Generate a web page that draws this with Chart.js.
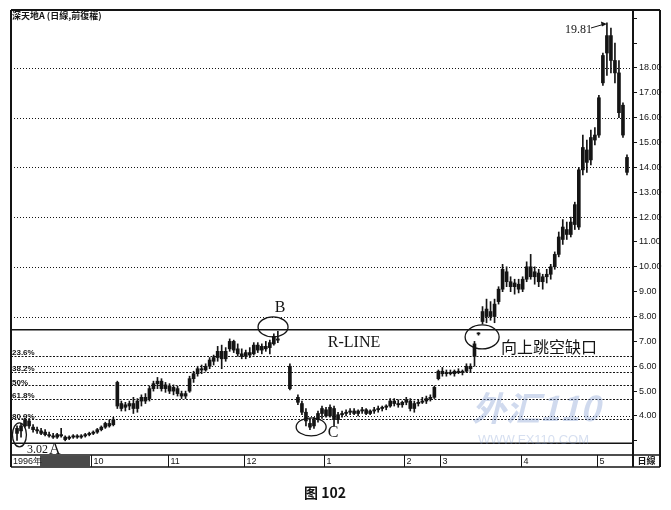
<!DOCTYPE html>
<html>
<head>
<meta charset="utf-8">
<script src="https://cdn.jsdelivr.net/npm/chart.js@4.4.1/dist/chart.umd.min.js"></script>
<style>
html, body { margin: 0; padding: 0; background: #fff; }
</style>
</head>
<body>
<canvas id="chart" width="671" height="510"></canvas>
<script>
// 深天地A 日线 1996.9 - 1997.5, one slot per trading day (null = no bar)
var opens = [
  null, 3.30, 3.40, 3.60, 3.80, 3.55, 3.45, 3.40, 3.35, 3.25,   // 0
  3.20, 3.15, 3.25, 3.15, 3.10, 3.15, 3.20, 3.15, 3.20, 3.25,   // 10
  3.30, 3.35, 3.45, 3.55, 3.70, 3.65, 5.35, 4.50, 4.35, 4.40,   // 20
  4.50, 4.30, 4.60, 4.75, 4.70, 5.10, 5.30, 5.40, 5.10, 5.20,   // 30
  5.00, 5.10, 4.90, 4.80, 5.00, 5.50, 5.70, 5.90, 5.85, 6.00,   // 40
  6.20, 6.35, 6.60, 6.30, 6.70, 7.00, 6.70, 6.50, 6.40, 6.55,   // 50
  6.50, 6.85, 6.65, 6.80, 6.75, 6.90, 7.10, null, null, 6.00,   // 60
  null, 4.75, 4.50, 4.15, 3.70, 3.60, 3.85, 4.10, 4.25, 4.00,   // 70
  4.30, 3.85, 4.05, 4.10, 4.15, 4.20, 4.10, 4.20, 4.25, 4.10,   // 80
  4.20, 4.25, 4.30, 4.35, 4.40, 4.60, 4.50, 4.45, 4.55, 4.60,   // 90
  4.30, 4.50, 4.55, 4.60, 4.70, 4.75, 5.50, 5.80, 5.70, 5.75,   // 100
  5.70, 5.80, 5.75, 5.80, 6.00, 6.40, 7.30, 7.80, 8.00, 8.20,   // 110
  8.00, 8.60, 9.10, 9.80, 9.40, 9.20, 9.30, 9.10, 9.50, 10.00,  // 120
  9.60, 9.75, 9.40, 9.60, 9.70, 10.00, 10.50, 11.10, 11.50, 11.30, // 130
  11.70, 11.60, 13.90, 14.70, 14.30, 15.10, 15.30, 17.40, 18.60, 19.30, // 140
  18.30, 17.80, 16.50, 14.40, null                               // 150
];
var highs = [
  null, 3.60, 3.70, 3.92, 3.90, 3.65, 3.55, 3.50, 3.45, 3.35,
  3.30, 3.30, 3.50, 3.20, 3.20, 3.25, 3.25, 3.25, 3.30, 3.35,
  3.40, 3.50, 3.60, 3.75, 3.85, 3.95, 5.40, 4.60, 4.55, 4.60,
  4.75, 4.70, 4.85, 4.90, 5.20, 5.40, 5.55, 5.50, 5.35, 5.30,
  5.25, 5.20, 5.00, 5.00, 5.60, 5.80, 6.00, 6.05, 6.10, 6.35,
  6.45, 6.80, 6.85, 6.75, 7.10, 7.05, 6.90, 6.70, 6.65, 6.75,
  6.95, 6.95, 6.90, 7.00, 7.05, 7.30, 7.40, null, null, 6.10,
  null, 4.85, 4.60, 4.30, 3.90, 3.95, 4.20, 4.40, 4.35, 4.45,
  4.40, 4.15, 4.20, 4.25, 4.30, 4.30, 4.25, 4.35, 4.30, 4.25,
  4.35, 4.40, 4.40, 4.45, 4.70, 4.70, 4.65, 4.60, 4.75, 4.70,
  4.60, 4.65, 4.75, 4.80, 4.85, 5.20, 5.85, 5.95, 5.85, 5.85,
  5.85, 5.90, 5.85, 6.10, 6.10, 7.00, 7.35, 8.40, 8.70, 8.60,
  8.70, 9.20, 10.10, 10.00, 9.60, 9.50, 9.50, 9.60, 10.20, 10.50,
  10.00, 9.90, 9.70, 9.90, 10.10, 10.60, 11.40, 11.90, 11.80, 12.00,
  12.60, 14.00, 15.30, 15.10, 15.50, 15.60, 16.90, 18.60, 19.81, 19.60,
  19.00, 18.30, 16.60, 14.50, null
];
var lows = [
  null, 3.02, 3.15, 3.55, 3.50, 3.35, 3.30, 3.25, 3.20, 3.15,
  3.10, 3.10, 3.15, 3.00, 3.05, 3.10, 3.10, 3.10, 3.15, 3.20,
  3.25, 3.30, 3.40, 3.50, 3.55, 3.60, 4.30, 4.20, 4.20, 4.25,
  4.10, 4.15, 4.40, 4.50, 4.60, 5.00, 5.10, 5.00, 4.95, 4.90,
  4.85, 4.80, 4.70, 4.70, 4.95, 5.35, 5.60, 5.70, 5.80, 5.90,
  6.05, 6.20, 5.90, 6.20, 6.60, 6.55, 6.40, 6.30, 6.30, 6.35,
  6.45, 6.55, 6.50, 6.60, 6.50, 6.85, 6.95, null, null, 5.05,
  null, 4.45, 4.05, 3.60, 3.45, 3.50, 3.75, 3.90, 3.95, 3.95,
  3.60, 3.70, 3.95, 4.00, 4.05, 4.05, 4.00, 4.10, 4.05, 4.05,
  4.10, 4.15, 4.20, 4.25, 4.35, 4.40, 4.35, 4.35, 4.45, 4.20,
  4.15, 4.40, 4.50, 4.50, 4.60, 4.70, 5.45, 5.60, 5.60, 5.65,
  5.60, 5.70, 5.65, 5.75, 5.75, 6.00, 7.25, 7.70, 7.75, 7.85,
  7.75, 8.50, 9.00, 9.20, 9.00, 8.90, 8.95, 9.00, 9.40, 9.50,
  9.30, 9.20, 9.10, 9.35, 9.50, 9.90, 10.40, 10.90, 11.10, 11.20,
  11.50, 11.50, 13.70, 13.80, 14.10, 14.90, 15.20, 17.30, 17.70, 17.80,
  17.40, 16.00, 15.20, 13.70, null
];
var closes = [
  null, 3.50, 3.60, 3.85, 3.60, 3.45, 3.40, 3.30, 3.25, 3.20,
  3.15, 3.25, 3.20, 3.05, 3.15, 3.20, 3.15, 3.20, 3.25, 3.30,
  3.35, 3.45, 3.55, 3.70, 3.60, 3.85, 4.40, 4.30, 4.45, 4.50,
  4.30, 4.60, 4.75, 4.60, 5.10, 5.30, 5.40, 5.10, 5.25, 5.00,
  5.15, 4.90, 4.80, 4.90, 5.50, 5.70, 5.90, 5.85, 6.00, 6.25,
  6.35, 6.60, 6.30, 6.60, 7.00, 6.65, 6.50, 6.40, 6.55, 6.45,
  6.85, 6.65, 6.80, 6.70, 6.95, 7.20, 7.05, null, null, 5.10,
  null, 4.55, 4.15, 3.80, 3.55, 3.85, 4.10, 4.30, 4.00, 4.35,
  3.85, 4.05, 4.10, 4.15, 4.20, 4.10, 4.20, 4.25, 4.10, 4.20,
  4.25, 4.30, 4.35, 4.40, 4.60, 4.50, 4.45, 4.55, 4.65, 4.30,
  4.50, 4.55, 4.60, 4.70, 4.75, 5.15, 5.80, 5.70, 5.75, 5.70,
  5.80, 5.75, 5.80, 6.00, 5.90, 6.90, 7.30, 8.20, 8.30, 8.00,
  8.50, 9.10, 9.90, 9.40, 9.20, 9.35, 9.10, 9.50, 10.00, 9.60,
  9.80, 9.40, 9.60, 9.70, 10.00, 10.50, 11.20, 11.60, 11.30, 11.80,
  12.50, 13.90, 14.80, 14.20, 15.20, 15.30, 16.80, 18.50, 19.30, 18.30,
  17.80, 16.20, 15.30, 13.80, null
];

// month boundaries on the date strip
var monthSlots = [20, 39, 58, 78, 98, 107, 127, 146];
var monthLabels = ['10', '11', '12', '1', '2', '3', '4', '5'];

// horizontal levels
var gridLevels = [4, 6, 8, 10, 12, 14, 16, 18];
var fibLevels = [6.43, 5.76, 5.23, 4.69, 3.86];
var fibLabels = ['23.6%', '38.2%', '50%', '61.8%', '80.9%'];
var rLevels = [7.47, 2.90];

var categories = opens.map(function(v, i) {
  var k = monthSlots.indexOf(i);
  return k >= 0 ? monthLabels[k] : '';
});

var ink = '#141414';

var overlay = {
  id: 'overlay',
  beforeDatasetsDraw: function(chart) {
    var ctx = chart.ctx, a = chart.chartArea, y = chart.scales.y;
    ctx.save();
    ctx.strokeStyle = ink;
    ctx.lineWidth = 1;
    ctx.setLineDash([1, 2]);
    gridLevels.forEach(function(v) {
      var py = Math.round(y.getPixelForValue(v)) + 0.5;
      ctx.beginPath(); ctx.moveTo(a.left, py); ctx.lineTo(a.right, py); ctx.stroke();
    });
    ctx.setLineDash([2, 1.5]);
    fibLevels.forEach(function(v) {
      var py = Math.round(y.getPixelForValue(v)) + 0.5;
      ctx.beginPath(); ctx.moveTo(a.left, py); ctx.lineTo(a.right, py); ctx.stroke();
    });
    ctx.setLineDash([]);
    ctx.lineWidth = 1.6;
    rLevels.forEach(function(v) {
      var py = y.getPixelForValue(v);
      ctx.beginPath(); ctx.moveTo(a.left, py); ctx.lineTo(a.right, py); ctx.stroke();
    });
    ctx.restore();
  },
  afterDraw: function(chart) {
    var ctx = chart.ctx, a = chart.chartArea;
    var xs = chart.scales.x, ys = chart.scales.y;
    var stripTop = a.bottom, stripBot = a.bottom + 12, outerR = 660;
    ctx.save();
    ctx.strokeStyle = ink;

    // frame
    ctx.lineWidth = 2;
    ctx.beginPath();
    ctx.moveTo(a.left, a.top); ctx.lineTo(a.left, stripBot);
    ctx.moveTo(a.left, a.top); ctx.lineTo(outerR, a.top);
    ctx.moveTo(a.right, a.top); ctx.lineTo(a.right, stripBot);
    ctx.moveTo(outerR, a.top); ctx.lineTo(outerR, stripBot);
    ctx.stroke();
    ctx.lineWidth = 1.5;
    ctx.beginPath();
    ctx.moveTo(a.left, stripTop); ctx.lineTo(outerR, stripTop);
    ctx.moveTo(a.left, stripBot); ctx.lineTo(outerR, stripBot);
    ctx.stroke();

    // date strip: month separators and labels
    ctx.lineWidth = 1;
    ctx.fillStyle = ink;
    ctx.font = '9px "Liberation Sans"';
    ctx.textBaseline = 'middle';
    ctx.textAlign = 'left';
    monthSlots.forEach(function(s, i) {
      var px = Math.round(xs.getPixelForValue(s)) - 1.5;
      ctx.beginPath(); ctx.moveTo(px, stripTop); ctx.lineTo(px, stripBot); ctx.stroke();
      ctx.fillText(monthLabels[i], px + 2, stripTop + 6.5);
    });
    ctx.fillStyle = '#4a4a4a';
    ctx.fillRect(40, stripTop + 1, 50, 11);
    ctx.fillStyle = ink;
    ctx.fillText('1996年', a.left + 2, stripTop + 6.5);
    ctx.font = 'bold 9px "Noto Sans CJK TC"';
    ctx.textAlign = 'center';
    ctx.fillText('日線', (a.right + outerR) / 2, stripTop + 6);

    // title
    ctx.textAlign = 'left';
    ctx.font = 'bold 9px "Noto Sans CJK TC"';
    ctx.fillText('深天地A (日線,前復權)', a.left + 1, a.top + 6);

    // fibonacci labels
    ctx.font = 'bold 8px "Liberation Sans"';
    ctx.textBaseline = 'bottom';
    fibLevels.forEach(function(v, i) {
      ctx.fillText(fibLabels[i], a.left + 1, ys.getPixelForValue(v) + 1);
    });

    // ellipses around A, B, C and the gap
    function ring(slot, val, rx, ry) {
      ctx.beginPath();
      ctx.ellipse(xs.getPixelForValue(slot), ys.getPixelForValue(val), rx, ry, 0, 0, Math.PI * 2);
      ctx.stroke();
    }
    ctx.lineWidth = 1.3;
    ring(1.6, 3.24, 7, 12);
    ring(64.8, 7.58, 15, 10);
    ring(74.3, 3.56, 15, 9);
    ring(116.9, 7.18, 17, 12);

    // annotation text
    ctx.textBaseline = 'middle';
    ctx.font = '16px "Liberation Serif"';
    ctx.textAlign = 'center';
    ctx.fillText('B', 280, 308);
    ctx.fillText('C', 333, 433);
    ctx.fillText('R-LINE', 354, 343);
    ctx.textAlign = 'left';
    ctx.fillText('A', 49, 450);
    ctx.font = '12px "Liberation Serif"';
    ctx.fillText('3.02', 27, 450);
    ctx.fillText('19.81', 565, 30);
    ctx.font = '16px "Noto Sans CJK SC"';
    ctx.fillText('向上跳空缺口', 501, 347);

    // arrow to the top
    var tipX = xs.getPixelForValue(148), tipY = ys.getPixelForValue(19.81) + 1;
    ctx.lineWidth = 1;
    ctx.beginPath(); ctx.moveTo(591, 28); ctx.lineTo(tipX - 2, tipY); ctx.stroke();
    ctx.beginPath();
    ctx.moveTo(tipX, tipY); ctx.lineTo(tipX - 6, tipY - 2.5); ctx.lineTo(tipX - 5, tipY + 2.5);
    ctx.closePath(); ctx.fill();

    // watermark
    ctx.fillStyle = 'rgba(120,150,205,0.35)';
    ctx.font = 'italic bold 34px "Noto Sans CJK SC"';
    ctx.fillText('外汇110', 472, 408);
    ctx.font = '13px "Liberation Sans"';
    ctx.fillStyle = 'rgba(120,150,205,0.3)';
    ctx.fillText('WWW.FX110.COM', 478, 440);

    // caption
    ctx.fillStyle = ink;
    ctx.textAlign = 'center';
    ctx.font = 'bold 14px "Noto Sans CJK SC"';
    ctx.fillText('图 102', 325, 493);
    ctx.restore();
  }
};

new Chart(document.getElementById('chart'), {
  type: 'bar',
  data: {
    labels: categories,
    datasets: [
      {
        label: 'wick',
        data: lows.map(function(l, i) { return l === null ? null : [l, highs[i]]; }),
        backgroundColor: ink,
        barThickness: 1,
        grouped: false,
        order: 2
      },
      {
        label: 'body',
        data: opens.map(function(o, i) { return o === null ? null : [o, closes[i]]; }),
        backgroundColor: ink,
        barThickness: 3,
        minBarLength: 1,
        grouped: false,
        order: 1
      }
    ]
  },
  options: {
    responsive: false,
    animation: false,
    devicePixelRatio: 1,
    layout: { padding: { left: 11, top: 10, right: 0, bottom: 43 } },
    plugins: { legend: { display: false }, tooltip: { enabled: false } },
    scales: {
      x: {
        type: 'category',
        grid: { display: false },
        border: { display: false },
        ticks: { display: false },
        afterFit: function(s) { s.height = 12; }
      },
      y: {
        position: 'right',
        min: 2.43,
        max: 20.33,
        grid: { drawOnChartArea: false, tickLength: 4, tickColor: ink },
        border: { display: true, color: ink, width: 2 },
        ticks: {
          stepSize: 1, includeBounds: false, padding: 2,
          color: ink, font: { size: 9, family: 'Liberation Sans' },
          callback: function(v) { return (v >= 4 && v <= 18) ? v.toFixed(2) : ''; }
        },
        afterFit: function(s) { s.width = 38; }
      }
    }
  },
  plugins: [overlay]
});
</script>
</body>
</html>
